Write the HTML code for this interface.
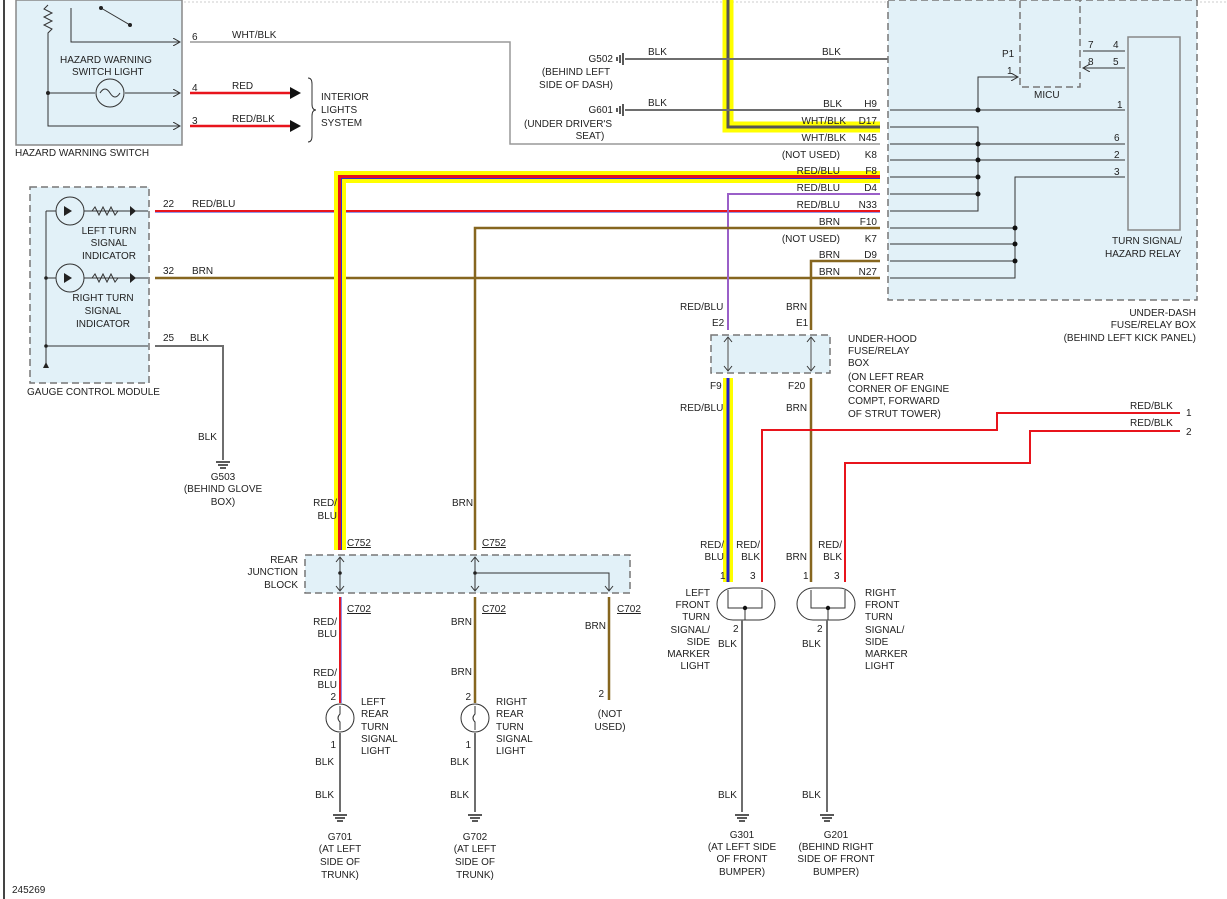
<!DOCTYPE html>
<html><head><meta charset="utf-8"><style>
html,body{margin:0;padding:0;background:#fff}
svg{display:block}
text{font-family:"Liberation Sans",sans-serif;font-size:10px;fill:#222}
.r{text-anchor:end}.m{text-anchor:middle}
.box{fill:#e2f1f8;stroke:#777;stroke-width:1.5;stroke-dasharray:7 4}
.g{stroke:#6e6e6e;stroke-width:2;fill:none}
.k{stroke:#333;stroke-width:1;fill:none}
.red{stroke:#e8141c;stroke-width:2.5;fill:none}
.brn{stroke:#86661f;stroke-width:2.5;fill:none}
.rb{stroke:#e8141c;stroke-width:2;fill:none}
</style></head><body>
<svg width="1227" height="899" viewBox="0 0 1227 899" xmlns="http://www.w3.org/2000/svg">
<defs>
<marker id="ah" markerWidth="8" markerHeight="8" refX="7" refY="4" orient="auto"><path d="M0,0 L7,4 L0,8" fill="none" stroke="#333"/></marker>
</defs>
<line x1="4" y1="0" x2="4" y2="899" stroke="#444" stroke-width="2"/>
<line x1="16" y1="2" x2="1227" y2="2" stroke="#ccc" stroke-width="1" stroke-dasharray="2 2"/>

<!-- Hazard switch -->
<rect x="16" y="0" width="166" height="145" fill="#e2f1f8" stroke="#888" stroke-width="1.5"/>
<path d="M48,5 l-4,4 l8,4 l-8,4 l8,4 l-8,4 l8,4 l-4,4 L48,126 L180,126" class="k" marker-end="url(#ah)"/>
<path d="M48,93 L95,93 M125,93 L180,93" class="k" marker-end="url(#ah)"/>
<circle cx="110" cy="93" r="14" fill="none" stroke="#333"/>
<path d="M100,93 q5,-8 10,0 q5,8 10,0" class="k"/>
<circle cx="48" cy="93" r="2" fill="#222"/>
<path d="M71,8 L71,42 L180,42" class="k" marker-end="url(#ah)"/>
<path d="M101,8 L130,25" class="k"/><circle cx="101" cy="8" r="2" fill="#222"/><circle cx="130" cy="25" r="2" fill="#222"/>
<text x="60" y="63">HAZARD WARNING</text><text x="72" y="75">SWITCH LIGHT</text>
<text x="15" y="156">HAZARD WARNING SWITCH</text>
<text x="192" y="40">6</text><text x="232" y="38">WHT/BLK</text>
<text x="192" y="91">4</text><text x="232" y="89">RED</text>
<text x="192" y="124">3</text><text x="232" y="122">RED/BLK</text>
<path d="M190,42 L510,42 L510,144 L880,144" stroke="#999" stroke-width="1.5" fill="none"/>
<path d="M190,93 L290,93 M190,126 L290,126" class="red"/>
<path d="M290,87 L301,93 L290,99Z M290,120 L301,126 L290,132Z" fill="#111"/>
<path d="M308,78 q4,0 4,6 v20 q0,6 4,6 q-4,0 -4,6 v20 q0,6 -4,6" class="k"/>
<text x="321" y="100">INTERIOR</text><text x="321" y="113">LIGHTS</text><text x="321" y="126">SYSTEM</text>

<!-- yellow D17 first so BLK wires cross on top -->
<path d="M728,0 L728,127 L880,127" stroke="#ffff00" stroke-width="11" fill="none"/>
<path d="M728,0 L728,127 L880,127" stroke="#555" stroke-width="3" fill="none"/>

<!-- Gauge control module -->
<rect x="30" y="187" width="119" height="196" class="box"/>
<path d="M46,211 L46,365" class="k"/><path d="M43,368 L46,362 L49,368Z" fill="#222"/>
<path d="M46,211 L56,211 M84,211 L148,211" class="k"/>
<path d="M46,278 L56,278 M84,278 L148,278" class="k"/>
<path d="M46,346 L148,346" class="k"/>
<circle cx="70" cy="211" r="14" fill="none" stroke="#333"/><circle cx="70" cy="278" r="14" fill="none" stroke="#333"/>
<path d="M92,211 l3,-4 l4,8 l4,-8 l4,8 l4,-8 l4,8 l3,-4 M92,278 l3,-4 l4,8 l4,-8 l4,8 l4,-8 l4,8 l3,-4" class="k"/>
<path d="M130,206 L130,216 L136,211Z M130,273 L130,283 L136,278Z M64,206 L64,216 L72,211Z M64,273 L64,283 L72,278Z" fill="#222"/>
<circle cx="46" cy="278" r="1.8" fill="#222"/><circle cx="46" cy="346" r="1.8" fill="#222"/>
<text class="m" x="109" y="234">LEFT TURN</text><text class="m" x="109" y="246">SIGNAL</text><text class="m" x="109" y="259">INDICATOR</text>
<text class="m" x="103" y="301">RIGHT TURN</text><text class="m" x="103" y="314">SIGNAL</text><text class="m" x="103" y="327">INDICATOR</text>
<text x="27" y="395">GAUGE CONTROL MODULE</text>
<text x="163" y="207">22</text><text x="192" y="207">RED/BLU</text>
<text x="163" y="274">32</text><text x="192" y="274">BRN</text>
<text x="163" y="341">25</text><text x="190" y="341">BLK</text>
<path d="M155,211 L880,211" class="rb"/><path d="M155,212.5 L880,212.5" stroke="#7070e0" stroke-width="0.8"/>
<path d="M155,278 L880,278" class="brn"/>
<path d="M155,346 L223,346 L223,460" class="g"/>
<text x="198" y="440">BLK</text>
<path d="M216,462 h14 M218,465 h10 M220,468 h6" stroke="#222" stroke-width="1.5"/>
<text class="m" x="223" y="480">G503</text><text class="m" x="223" y="492">(BEHIND GLOVE</text><text class="m" x="223" y="505">BOX)</text>

<!-- Grounds G502/G601 -->
<path d="M625,59 L1013,59" class="g"/><path d="M625,110 L880,110" class="g"/>
<path d="M623,53 v12 M620,55 v8 M617,57 v4 M623,104 v12 M620,106 v8 M617,108 v4" stroke="#222" stroke-width="1.5"/>
<text class="r" x="613" y="62">G502</text><text class="m" x="576" y="75">(BEHIND LEFT</text><text class="m" x="576" y="88">SIDE OF DASH)</text>
<text class="r" x="613" y="113">G601</text><text class="m" x="568" y="127">(UNDER DRIVER'S</text><text class="m" x="590" y="139">SEAT)</text>
<text x="648" y="55">BLK</text><text x="822" y="55">BLK</text><text x="648" y="106">BLK</text>

<!-- Under-dash box -->
<rect x="888" y="0" width="309" height="300" class="box"/>
<rect x="1020" y="0" width="60" height="87" class="box"/>
<rect x="1128" y="37" width="52" height="193" fill="#e2f1f8" stroke="#888" stroke-width="1.5"/>
<text x="1034" y="98">MICU</text>
<text class="m" x="1147" y="244">TURN SIGNAL/</text><text class="m" x="1143" y="257">HAZARD RELAY</text>
<text class="r" x="1196" y="316">UNDER-DASH</text><text class="r" x="1196" y="328">FUSE/RELAY BOX</text><text class="r" x="1196" y="341">(BEHIND LEFT KICK PANEL)</text>
<text x="1002" y="57">P1</text><text x="1007" y="74">1</text>
<path d="M978,110 L978,77 L1018,77" class="k" marker-end="url(#ah)"/>
<path d="M1125,51 L1083,51 M1125,68 L1083,68" class="k" marker-end="url(#ah)"/>
<text x="1088" y="48">7</text><text x="1088" y="65">8</text><text x="1113" y="48">4</text><text x="1113" y="65">5</text>
<g class="k">
<path d="M890,110 L1125,110 M890,127 L978,127 L978,211 L890,211 M890,144 L1125,144 M890,160 L1125,160 M890,177 L978,177 M890,194 L978,194"/>
<path d="M1125,177 L1015,177 L1015,278 L890,278 M890,228 L1015,228 M890,244 L1015,244 M890,261 L1015,261"/>
</g>
<g fill="#111"><circle cx="978" cy="110" r="2.5"/><circle cx="978" cy="144" r="2.5"/><circle cx="978" cy="160" r="2.5"/><circle cx="978" cy="177" r="2.5"/><circle cx="978" cy="194" r="2.5"/><circle cx="1015" cy="228" r="2.5"/><circle cx="1015" cy="244" r="2.5"/><circle cx="1015" cy="261" r="2.5"/></g>
<text x="1117" y="108">1</text><text x="1114" y="141">6</text><text x="1114" y="158">2</text><text x="1114" y="175">3</text>

<!-- highlighted F8 wire -->
<path d="M880,177 L340,177 L340,550" stroke="#ffff00" stroke-width="12" fill="none"/>
<path d="M880,177 L340,177 L340,550" stroke="#e8141c" stroke-width="4" fill="none"/>
<path d="M880,178.5 L341.5,178.5 L341.5,550" stroke="#3030d0" stroke-width="1" fill="none"/>

<g>
<text class="r" x="877" y="107">H9</text><text class="r" x="877" y="124">D17</text><text class="r" x="877" y="141">N45</text><text class="r" x="877" y="158">K8</text><text class="r" x="877" y="174">F8</text><text class="r" x="877" y="191">D4</text><text class="r" x="877" y="208">N33</text><text class="r" x="877" y="225">F10</text><text class="r" x="877" y="242">K7</text><text class="r" x="877" y="258">D9</text><text class="r" x="877" y="275">N27</text>
<text class="r" x="842" y="107">BLK</text><text class="r" x="846" y="124">WHT/BLK</text><text class="r" x="846" y="141">WHT/BLK</text><text class="r" x="840" y="158">(NOT USED)</text><text class="r" x="840" y="174">RED/BLU</text><text class="r" x="840" y="191">RED/BLU</text><text class="r" x="840" y="208">RED/BLU</text><text class="r" x="840" y="225">BRN</text><text class="r" x="840" y="242">(NOT USED)</text><text class="r" x="840" y="258">BRN</text><text class="r" x="840" y="275">BRN</text>
</g>

<!-- D4, D9, F10 -->
<path d="M880,194 L728,194 L728,330" stroke="#9a5fc8" stroke-width="2" fill="none"/>
<path d="M880,261 L811,261 L811,330" class="brn"/>
<path d="M880,228 L475,228 L475,550" class="brn"/>
<text x="680" y="310">RED/BLU</text><text x="712" y="326">E2</text>
<text x="786" y="310">BRN</text><text x="796" y="326">E1</text>
<text class="r" x="337" y="506">RED/</text><text class="r" x="337" y="519">BLU</text>
<text x="452" y="506">BRN</text>

<!-- Under-hood box -->
<rect x="711" y="335" width="119" height="38" class="box"/>
<path d="M728,338 L728,370 M811,338 L811,370" stroke="#666" stroke-width="1.2"/>
<path d="M724,342 L728,337 L732,342 M724,366 L728,371 L732,366 M807,342 L811,337 L815,342 M807,366 L811,371 L815,366" class="k"/>
<g><text x="848" y="342">UNDER-HOOD</text><text x="848" y="354">FUSE/RELAY</text><text x="848" y="366">BOX</text><text x="848" y="380">(ON LEFT REAR</text><text x="848" y="392">CORNER OF ENGINE</text><text x="848" y="404">COMPT, FORWARD</text><text x="848" y="417">OF STRUT TOWER)</text></g>
<text x="710" y="389">F9</text><text x="680" y="411">RED/BLU</text><text x="788" y="389">F20</text><text x="786" y="411">BRN</text>
<path d="M728,378 L728,582" stroke="#ffff00" stroke-width="10" fill="none"/>
<path d="M728,378 L728,582" stroke="#2020d0" stroke-width="3" fill="none"/>
<path d="M811,378 L811,582" class="brn"/>
<path d="M1180,413 L997,413 L997,430 L762,430 L762,582" class="rb"/>
<path d="M1180,431 L1030,431 L1030,463 L845,463 L845,582" class="rb"/>
<text x="1130" y="409">RED/BLK</text><text x="1130" y="426">RED/BLK</text><text x="1186" y="416">1</text><text x="1186" y="435">2</text>

<!-- front lights -->
<rect x="717" y="588" width="58" height="32" rx="16" fill="#fff" stroke="#333"/>
<rect x="797" y="588" width="58" height="32" rx="16" fill="#fff" stroke="#333"/>
<path d="M728,590 v18 h34 v-18 M745,608 v12 M811,590 v18 h34 v-18 M828,608 v12" class="k"/>
<circle cx="745" cy="608" r="2.2" fill="#111"/><circle cx="828" cy="608" r="2.2" fill="#111"/>
<path d="M742,620 L742,812 M827,620 L827,812" class="g"/>
<g><text class="r" x="724" y="548">RED/</text><text class="r" x="724" y="560">BLU</text><text class="r" x="760" y="548">RED/</text><text class="r" x="760" y="560">BLK</text><text class="r" x="807" y="560">BRN</text><text class="r" x="842" y="548">RED/</text><text class="r" x="842" y="560">BLK</text></g>
<text x="720" y="579">1</text><text x="750" y="579">3</text><text x="803" y="579">1</text><text x="834" y="579">3</text>
<g><text class="r" x="710" y="596">LEFT</text><text class="r" x="710" y="608">FRONT</text><text class="r" x="710" y="620">TURN</text><text class="r" x="710" y="633">SIGNAL/</text><text class="r" x="710" y="645">SIDE</text><text class="r" x="710" y="657">MARKER</text><text class="r" x="710" y="669">LIGHT</text></g>
<text x="865" y="596">RIGHT</text><text x="865" y="608">FRONT</text><text x="865" y="620">TURN</text><text x="865" y="633">SIGNAL/</text><text x="865" y="645">SIDE</text><text x="865" y="657">MARKER</text><text x="865" y="669">LIGHT</text>
<text x="733" y="632">2</text><text x="718" y="647">BLK</text><text x="817" y="632">2</text><text x="802" y="647">BLK</text>
<text x="718" y="798">BLK</text><text x="802" y="798">BLK</text>
<path d="M735,815 h14 M737,818 h10 M739,821 h6 M820,815 h14 M822,818 h10 M824,821 h6" stroke="#222" stroke-width="1.5"/>
<text class="m" x="742" y="838">G301</text><text class="m" x="742" y="850">(AT LEFT SIDE</text><text class="m" x="742" y="862">OF FRONT</text><text class="m" x="742" y="875">BUMPER)</text>
<text class="m" x="836" y="838">G201</text><text class="m" x="836" y="850">(BEHIND RIGHT</text><text class="m" x="836" y="862">SIDE OF FRONT</text><text class="m" x="836" y="875">BUMPER)</text>

<!-- Rear junction block -->
<rect x="305" y="555" width="325" height="38" class="box"/>
<path d="M340,558 L340,590 M475,558 L475,590 M475,573 L609,573 L609,590" class="k"/>
<path d="M336,562 L340,557 L344,562 M336,586 L340,591 L344,586 M471,562 L475,557 L479,562 M471,586 L475,591 L479,586 M605,586 L609,591 L613,586" class="k"/>
<circle cx="340" cy="573" r="1.8" fill="#222"/><circle cx="475" cy="573" r="1.8" fill="#222"/>
<text class="r" x="298" y="563">REAR</text><text class="r" x="298" y="575">JUNCTION</text><text class="r" x="298" y="588">BLOCK</text>
<text x="347" y="546" text-decoration="underline">C752</text><text x="482" y="546" text-decoration="underline">C752</text><text x="347" y="612" text-decoration="underline">C702</text><text x="482" y="612" text-decoration="underline">C702</text><text x="617" y="612" text-decoration="underline">C702</text>
<path d="M340,597 L340,703" class="rb"/><path d="M341.3,597 L341.3,703" stroke="#6060e0" stroke-width="0.8"/>
<path d="M475,597 L475,703 M609,597 L609,700" class="brn"/>
<circle cx="340" cy="718" r="14" fill="#fff" stroke="#333"/><circle cx="475" cy="718" r="14" fill="#fff" stroke="#333"/>
<path d="M340,706 v8 q-4,4 0,8 v8 M475,706 v8 q-4,4 0,8 v8" class="k"/>
<path d="M340,733 L340,812 M475,733 L475,812" class="g"/>
<g><text class="r" x="337" y="625">RED/</text><text class="r" x="337" y="637">BLU</text><text class="r" x="337" y="676">RED/</text><text class="r" x="337" y="688">BLU</text><text class="r" x="472" y="625">BRN</text><text class="r" x="472" y="675">BRN</text><text class="r" x="606" y="629">BRN</text>
<text class="r" x="336" y="700">2</text><text class="r" x="336" y="748">1</text><text class="r" x="471" y="700">2</text><text class="r" x="471" y="748">1</text><text class="r" x="604" y="697">2</text>
<text class="r" x="334" y="765">BLK</text><text class="r" x="334" y="798">BLK</text><text class="r" x="469" y="765">BLK</text><text class="r" x="469" y="798">BLK</text></g>
<text x="361" y="705">LEFT</text><text x="361" y="717">REAR</text><text x="361" y="730">TURN</text><text x="361" y="742">SIGNAL</text><text x="361" y="754">LIGHT</text>
<text x="496" y="705">RIGHT</text><text x="496" y="717">REAR</text><text x="496" y="730">TURN</text><text x="496" y="742">SIGNAL</text><text x="496" y="754">LIGHT</text>
<text class="m" x="610" y="717">(NOT</text><text class="m" x="610" y="730">USED)</text>
<path d="M333,815 h14 M335,818 h10 M337,821 h6 M468,815 h14 M470,818 h10 M472,821 h6" stroke="#222" stroke-width="1.5"/>
<text class="m" x="340" y="840">G701</text><text class="m" x="340" y="852">(AT LEFT</text><text class="m" x="340" y="865">SIDE OF</text><text class="m" x="340" y="878">TRUNK)</text>
<text class="m" x="475" y="840">G702</text><text class="m" x="475" y="852">(AT LEFT</text><text class="m" x="475" y="865">SIDE OF</text><text class="m" x="475" y="878">TRUNK)</text>
<text x="12" y="893">245269</text>
</svg>
</body></html>
